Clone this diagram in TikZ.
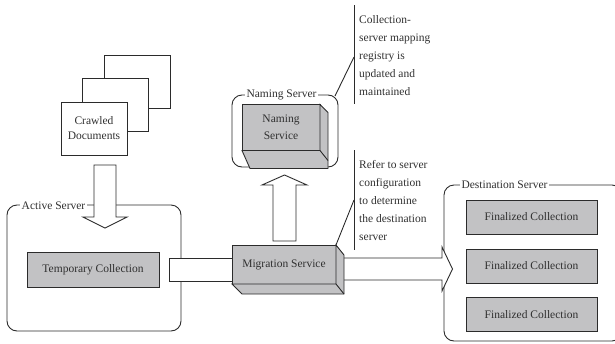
\documentclass[tikz,border=0pt]{standalone}
\usepackage{fontspec}
\setmainfont{Liberation Serif}
\definecolor{ln}{HTML}{2B2B2B}
\definecolor{bx}{HTML}{C2C2C4}
\definecolor{tx}{HTML}{303030}
\tikzset{
  edge/.style={draw=ln, line width=0.9pt},
  grp/.style={edge, rounded corners=10pt},
  flatbox/.style={edge, fill=bx, outer sep=0pt, inner sep=0pt, text=tx, font=\fontsize{11.5}{15}\selectfont, align=center},
  doc/.style={edge, fill=white, outer sep=0pt, inner sep=0pt, minimum width=66pt, minimum height=53pt},
  grplabel/.style={fill=white, inner sep=1.5pt, text=tx, font=\fontsize{11.5}{14}\selectfont},
  note/.style={text=tx, font=\fontsize{11.5}{18}\selectfont, align=left, inner sep=0pt, anchor=north west},
  blockarrow/.style={edge, fill=white, line join=miter}
}
\begin{document}
\begin{tikzpicture}[x=1pt,y=-1pt]
\useasboundingbox (0,0) rectangle (615,343);
\clip (0,0) rectangle (615,343);

% Crawled documents stack
\node[doc] (d3) at (137,82) {};
\node[doc] (d2) at (115.5,105) {};
\node[doc, text=tx, font=\fontsize{11.5}{15}\selectfont, align=center] (d1) at (94,128.5) {Crawled\\Documents};

% Active server group
\draw[grp] (7,205) rectangle (181,331);
\node[grplabel] (lact) at (53.5,206) {Active Server};
\node[flatbox, minimum width=132pt, minimum height=35pt] (tmp) at (93,269.5) {Temporary Collection};

% Naming server group
\draw[grp] (232,95) rectangle (338,167);
\node[grplabel] (lnam) at (281.5,95) {Naming Server};
\node[flatbox, minimum width=78pt, minimum height=46pt, font=\fontsize{11.5}{17}\selectfont] (nam) at (281,127.5) {Naming\\Service};
\draw[edge, fill=bx, line join=miter] (nam.north east) -- ++(8,8) -- ++(0,56) -- ++(-78,0) -- (nam.south west) -- (nam.south east) -- cycle;
\draw[edge] (nam.south east) -- ++(8,10);

% Destination server group
\draw[grp] (444,185) rectangle (622,341);
\node[grplabel] (ldst) at (504.5,185) {Destination Server};
\node[flatbox, minimum width=131pt, minimum height=34pt] (f1) at (531.5,217) {Finalized Collection};
\node[flatbox, minimum width=131pt, minimum height=34pt] (f2) at (531.5,266) {Finalized Collection};
\node[flatbox, minimum width=131pt, minimum height=34pt] (f3) at (531.5,314.5) {Finalized Collection};

% Block arrows
\draw[blockarrow] (94,165) -- (116,165) -- (116,217) -- (127,217) -- (105,228) -- (83,217) -- (94,217) -- cycle;
\draw[blockarrow] (169,258) rectangle (236,281);
\draw[blockarrow] (273,241) -- (273,185) -- (262,185) -- (284.5,175) -- (307,185) -- (296,185) -- (296,241) -- cycle;
\draw[blockarrow] (340,258) -- (442,258) -- (442,247) -- (452.5,269) -- (442,291) -- (442,280) -- (340,280) -- cycle;

% Migration service
\node[flatbox, minimum width=104pt, minimum height=39pt] (mig) at (284,264.5) {Migration Service};
\draw[edge, fill=bx, line join=miter] (mig.north east) -- ++(8,10) -- ++(0,39) -- ++(-102,0) -- (mig.south west) -- (mig.south east) -- cycle;
\draw[edge] (mig.south east) -- ++(8,10);

% Callouts
\coordinate (c1t) at (354,5);
\coordinate (c1b) at (354,104);
\coordinate (c1k) at (354,57);
\draw[edge] (c1t) -- (c1b);
\draw[edge] (c1k) -- (335,96);
\node[note] (n1) at (359,15.5) {Collection-\\server mapping\\registry is\\updated and\\maintained};

\coordinate (c2t) at (354,150);
\coordinate (c2b) at (354,250);
\coordinate (c2k) at (354,200);
\draw[edge] (c2t) -- (c2b);
\draw[edge] (c2k) -- (mig.north east);
\node[note] (n2) at (359,160.5) {Refer to server\\configuration\\to determine\\the destination\\server};
\end{tikzpicture}
\end{document}
